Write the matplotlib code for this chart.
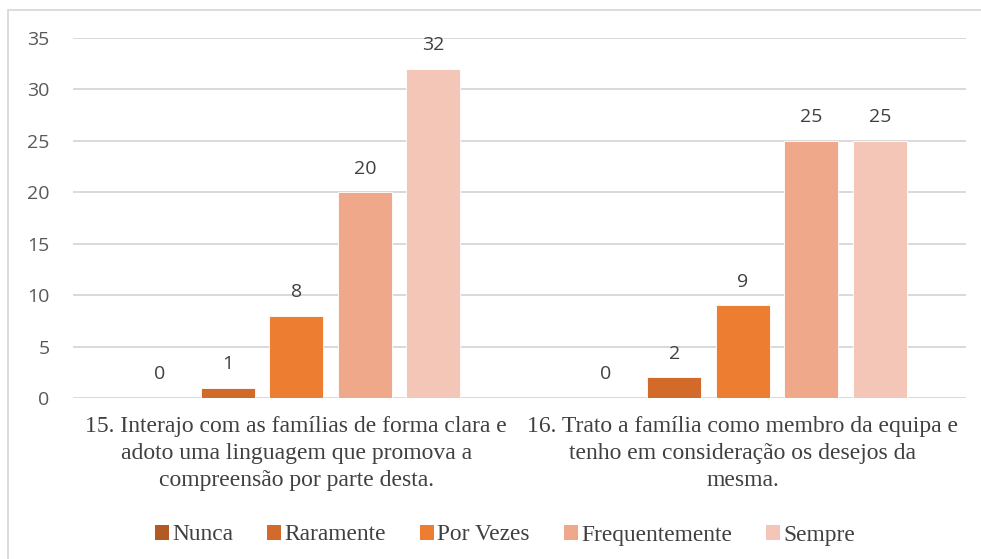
import matplotlib
matplotlib.use("Agg")
import matplotlib.pyplot as plt
from matplotlib import font_manager as fm
import numpy as np
from matplotlib.patches import Rectangle

categories = ["15. Interajo com as famílias de forma clara e\nadoto uma linguagem que promova a\ncompreensão por parte desta.",
              "16. Trato a família como membro da equipa e\ntenho em consideração os desejos da\nmesma."]
series = ["Nunca", "Raramente", "Por Vezes", "Frequentemente", "Sempre"]
values = {
    "Nunca": [0, 0],
    "Raramente": [1, 2],
    "Por Vezes": [8, 9],
    "Frequentemente": [20, 25],
    "Sempre": [32, 25],
}
colors = ["#B25A23", "#D26B2A", "#ED7D31", "#F0A88A", "#F4C6B7"]
yticks = [0, 5, 10, 15, 20, 25, 30, 35]

W, H = 981, 559
fig = plt.figure(figsize=(W/100, H/100), dpi=100)
fig.patches.append(Rectangle((7.5/W, -0.5), 2.0, 1.5 - 10/H, transform=fig.transFigure,
                             fill=False, edgecolor="#D9D9D9", linewidth=1.3))
ax = fig.add_axes([73/W, 1 - 398/H, (966-73)/W, (398-38)/H])

x = np.arange(len(categories))
step = 0.1535
width = 0.121
sans_fp = fm.FontProperties(family="Open Sans", size=14)
serif_lbl = fm.FontProperties(family="Liberation Serif", size=17)
serif_leg = fm.FontProperties(family="Liberation Serif", size=16.8)
for i, (s, c) in enumerate(zip(series, colors)):
    pos = x + (i - 2) * step
    ax.bar(pos, values[s], width=width, color=c, label=s, zorder=3,
           edgecolor="white", linewidth=0.6)
    for p, v in zip(pos, values[s]):
        ax.annotate(str(v), (p, v), xytext=(0, 17), textcoords="offset points",
                    ha="center", va="center", color="#404040", fontproperties=sans_fp)

ax.set_xlim(-0.5, 1.5)
ax.set_ylim(0, 35)
ax.set_yticks(yticks)
ax.set_yticklabels([str(t) for t in yticks], fontproperties=sans_fp, color="#595959")
ax.yaxis.grid(True, color="#D9D9D9", linewidth=1.4, zorder=0)
ax.tick_params(axis="y", length=0, pad=17)
ax.tick_params(axis="x", length=0, pad=13)
ax.set_xticks(x)
ax.set_xticklabels(categories, fontproperties=serif_lbl, color="#404040", linespacing=1.38)
for sp in ax.spines.values():
    sp.set_visible(False)

leg = fig.legend(loc="center", bbox_to_anchor=(505/W, 1 - 535/H), ncol=5, frameon=False,
                 prop=serif_leg, handlelength=0.6, handleheight=0.6,
                 handletextpad=0.15, columnspacing=1.45, labelcolor="#404040")
for h in leg.legend_handles:
    h.set_edgecolor("none")

fig.savefig("out.png", dpi=100)
